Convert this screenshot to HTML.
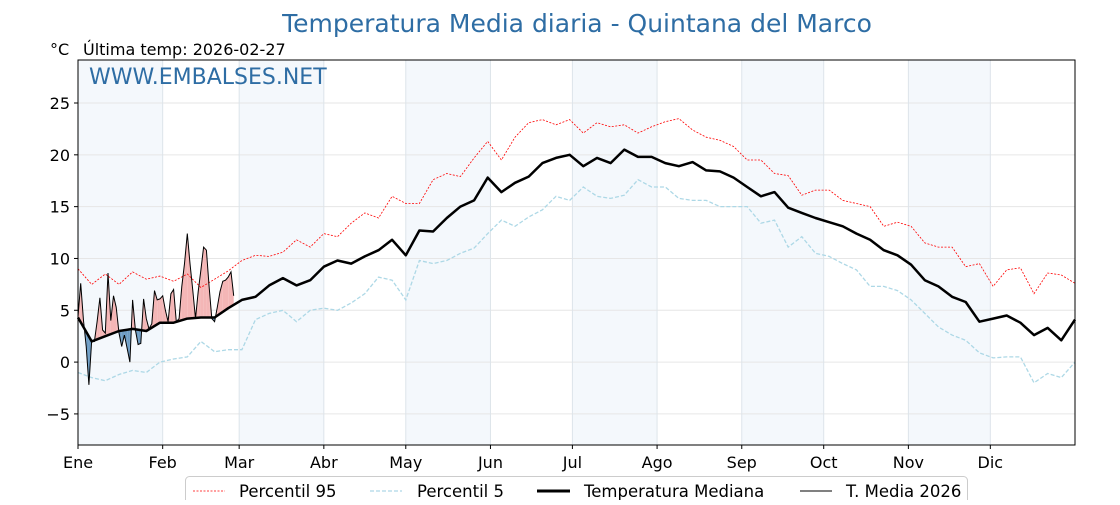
<!DOCTYPE html>
<html><head><meta charset="utf-8"><style>
body{margin:0;background:#fff;}
svg text{font-family:"DejaVu Sans","Liberation Sans",sans-serif;}
</style></head><body>
<svg id="c" width="1120" height="500" viewBox="0 0 1120 500" xmlns="http://www.w3.org/2000/svg">
<text x="577" y="32" text-anchor="middle" font-size="25" fill="#2e6da4">Temperatura Media diaria - Quintana del Marco</text>
<text x="50" y="55" font-size="16" fill="#000">°C</text>
<text x="83" y="55" font-size="16" fill="#000">Última temp: 2026-02-27</text>
<g id="bands"></g><g id="grid"></g><g id="fills"></g><g id="lines"></g>
<text x="89" y="84" font-size="22" fill="#2e6da4">WWW.EMBALSES.NET</text>
<rect x="78" y="60" width="997" height="385" fill="none" stroke="#000" stroke-width="1"/>
<g id="ticks"></g>
<g>
<rect x="185.5" y="476.5" width="782" height="40" rx="4" fill="#fff" stroke="#ccc"/>
<line x1="193" y1="491" x2="225" y2="491" stroke="red" stroke-width="0.8" stroke-dasharray="2,1.5"/>
<text x="239" y="497" font-size="16.5">Percentil 95</text>
<line x1="370" y1="491" x2="402" y2="491" stroke="#add8e6" stroke-width="1.3" stroke-dasharray="4,2"/>
<text x="417" y="497" font-size="16.5">Percentil 5</text>
<line x1="537" y1="491" x2="570" y2="491" stroke="#000" stroke-width="3"/>
<text x="584" y="497" font-size="16.5">Temperatura Mediana</text>
<line x1="800" y1="491" x2="832" y2="491" stroke="#000" stroke-width="1"/>
<text x="846" y="497" font-size="16.5">T. Media 2026</text>
</g>
</svg>
<script>
const months=["Ene","Feb","Mar","Abr","May","Jun","Jul","Ago","Sep","Oct","Nov","Dic"];
const monthStart=[0,31,59,90,120,151,181,212,243,273,304,334];
const yTicks=[-5,0,5,10,15,20,25];
const sampleStep=5;
const median=[4.3,2.0,2.5,3.0,3.2,3.0,3.8,3.8,4.2,4.3,4.3,5.2,6.0,6.3,7.4,8.1,7.4,7.9,9.2,9.8,9.5,10.2,10.8,11.8,10.3,12.7,12.6,13.9,15.0,15.6,17.8,16.4,17.3,17.9,19.2,19.7,20.0,18.9,19.7,19.2,20.5,19.8,19.8,19.2,18.9,19.3,18.5,18.4,17.8,16.9,16.0,16.4,14.9,14.4,13.9,13.5,13.1,12.4,11.8,10.8,10.3,9.4,7.9,7.3,6.3,5.8,3.9,4.2,4.5,3.8,2.6,3.3,2.1,4.1];
const p95=[9.0,7.5,8.5,7.5,8.7,8.0,8.3,7.8,8.5,7.2,8.0,8.8,9.8,10.3,10.2,10.6,11.8,11.1,12.4,12.1,13.4,14.4,13.9,16.0,15.3,15.3,17.6,18.2,17.9,19.7,21.3,19.5,21.7,23.1,23.4,22.9,23.4,22.1,23.1,22.7,22.9,22.1,22.7,23.2,23.5,22.4,21.7,21.4,20.8,19.5,19.5,18.2,18.0,16.1,16.6,16.6,15.6,15.3,15.0,13.1,13.5,13.1,11.5,11.1,11.1,9.2,9.5,7.3,8.9,9.1,6.6,8.6,8.4,7.6];
const p5=[-1.0,-1.5,-1.8,-1.2,-0.8,-1.0,0.0,0.3,0.5,2.0,1.0,1.2,1.2,4.1,4.7,5.0,3.9,5.0,5.2,5.0,5.7,6.6,8.2,7.9,6.0,9.8,9.5,9.8,10.5,11.0,12.4,13.7,13.1,14.0,14.7,16.0,15.6,16.9,16.0,15.8,16.1,17.6,16.9,16.9,15.8,15.6,15.6,15.0,15.0,15.0,13.4,13.7,11.1,12.1,10.5,10.2,9.5,8.9,7.3,7.3,6.9,6.0,4.7,3.4,2.6,2.1,0.9,0.4,0.5,0.5,-2.0,-1.1,-1.5,0.0];
const t2026=[4.4,7.6,4.0,1.5,-2.2,2.1,2.0,3.9,6.2,3.1,2.8,8.6,4.0,6.4,5.3,2.8,1.5,2.6,1.3,0.0,6.0,3.1,1.7,1.8,6.1,4.2,3.2,3.7,6.9,6.0,6.1,6.4,5.0,3.9,6.6,7.0,3.9,4.2,7.3,9.5,12.4,9.5,7.0,4.2,6.8,8.9,11.1,10.8,7.3,4.2,3.9,5.3,6.8,7.8,7.9,8.2,8.7,6.4];

const X0=78,X1=1075,Y0=60,Y1=445,VMIN=-8,VMAX=29.15;
const xs=d=>X0+d*(X1-X0)/365;
const ys=v=>Y1-(v-VMIN)*(Y1-Y0)/(VMAX-VMIN);
const NS="http://www.w3.org/2000/svg";
function mk(tag,attrs,parent){const e=document.createElementNS(NS,tag);for(const k in attrs)e.setAttribute(k,attrs[k]);document.getElementById(parent).appendChild(e);return e;}

for(let i=0;i<12;i+=2){const a=monthStart[i],b=monthStart[i+1];
 const r=mk('rect',{x:xs(a),y:Y0,width:xs(b)-xs(a),height:Y1-Y0,fill:'#f4f8fc'},'bands');
 
 }
yTicks.forEach(v=>{const l=mk('line',{x1:X0,x2:X1,y1:ys(v),y2:ys(v),stroke:'#e6e6e6','stroke-width':1},'grid');
 
 
 const t=mk('line',{x1:X0-4,x2:X0,y1:ys(v),y2:ys(v),stroke:'#000'},'ticks');
 
 
 const tx=mk('text',{x:X0-8,y:ys(v)+6,'font-size':16,'text-anchor':'end'},'ticks');tx.textContent=(v<0?'\u2212'+(-v):v);
 
 });
monthStart.forEach((d,i)=>{const l=mk('line',{x1:xs(d),x2:xs(d),y1:Y0,y2:Y1,stroke:'#dde4ea','stroke-width':1},'grid');
 
 
 const t=mk('line',{x1:xs(d),x2:xs(d),y1:Y1,y2:Y1+4,stroke:'#000'},'ticks');
 
 
 const tx=mk('text',{x:xs(d),y:Y1+23,'font-size':16,'text-anchor':'middle'},'ticks');tx.textContent=months[i];
 
 });

function sampled(arr){return arr.map((v,i)=>[xs(i*sampleStep),ys(v)]);}
function pts(p){return p.map(q=>q[0].toFixed(1)+','+q[1].toFixed(1)).join(' ');}
const medAt=d=>{const i=Math.min(Math.floor(d/sampleStep),median.length-2);const f=d/sampleStep-i;return median[i]*(1-f)+median[i+1]*f;};

for(let d=0;d<t2026.length-1;d++){
 const a1=t2026[d],a2=t2026[d+1],m1=medAt(d),m2=medAt(d+1);
 const d1=a1-m1,d2=a2-m2;
 const seg=(da,db,va,vb,ma,mb)=>{const col=(va+vb-ma-mb)>0?'#f4b6b6':'#6d9cc4';
  const p=mk('polygon',{points:`${xs(da)},${ys(va)} ${xs(db)},${ys(vb)} ${xs(db)},${ys(mb)} ${xs(da)},${ys(ma)}`,fill:col,stroke:'none'},'fills');
  
  };
 if(d1*d2<0){const f=d1/(d1-d2);const dc=d+f,vc=a1+(a2-a1)*f;seg(d,dc,a1,vc,m1,vc);seg(dc,d+1,vc,a2,vc,m2);}
 else seg(d,d+1,a1,a2,m1,m2);
}
let e;
e=mk('polyline',{points:pts(sampled(p95)),fill:'none',stroke:'red','stroke-width':0.8,'stroke-dasharray':'2,1.5'},'lines');


e=mk('polyline',{points:pts(sampled(p5)),fill:'none',stroke:'#add8e6','stroke-width':1.3,'stroke-dasharray':'4,2'},'lines');


e=mk('polyline',{points:pts(sampled(median)),fill:'none',stroke:'#000','stroke-width':2.5,'stroke-linejoin':'round'},'lines');


e=mk('polyline',{points:pts(t2026.map((v,i)=>[xs(i),ys(v)])),fill:'none',stroke:'#000','stroke-width':1},'lines');


</script>
</body></html>
